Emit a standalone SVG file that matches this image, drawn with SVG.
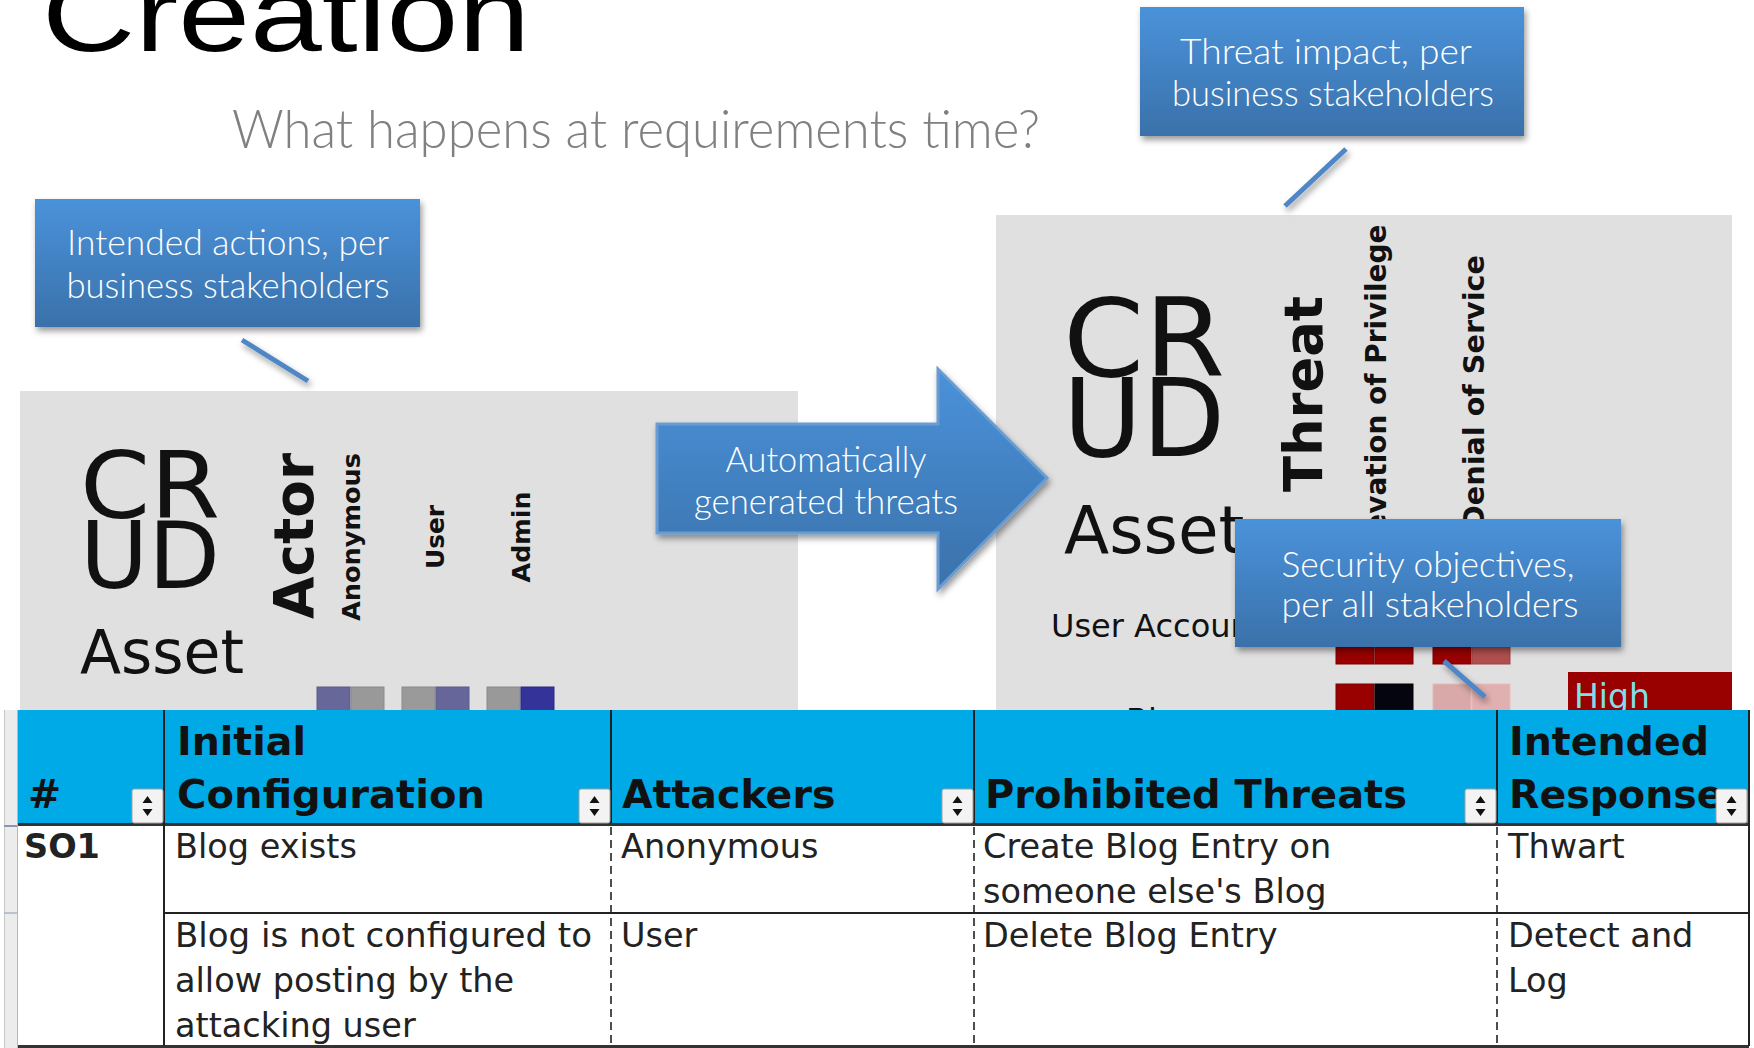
<svg xmlns="http://www.w3.org/2000/svg" width="1754" height="1048" viewBox="0 0 1754 1048">
<defs>
  <linearGradient id="cg" x1="0" y1="0" x2="0" y2="1">
    <stop offset="0" stop-color="#4a92da"/>
    <stop offset="1" stop-color="#3a71aa"/>
  </linearGradient>
  <filter id="sh" x="-10%" y="-15%" width="125%" height="140%">
    <feDropShadow dx="2" dy="4" stdDeviation="3" flood-color="#000" flood-opacity="0.4"/>
  </filter>
  <g id="sortbtn">
    <rect x="0" y="0" width="31" height="34" rx="2" fill="#f3f3f3" stroke="#a0a0a0" stroke-width="1"/>
    <path d="M15.5 7 L20.5 14 L10.5 14 Z M15.5 27 L20.5 20 L10.5 20 Z" fill="#111"/>
  </g>
  <style>
    .ct{font-family:Lato,"Liberation Sans",sans-serif;font-weight:300;font-size:35px;fill:#ffffff;text-anchor:middle}
    .callout{fill:url(#cg);filter:url(#sh)}
    .panel{fill:#e0e0e0}
    .big{font-family:"DejaVu Sans",sans-serif;fill:#111}
    .rot{font-family:"DejaVu Sans",sans-serif;font-weight:bold;fill:#111;text-anchor:middle}
    .hd{font-family:"DejaVu Sans",sans-serif;font-weight:bold;font-size:39.5px;fill:#111}
    .bd{font-family:"DejaVu Sans",sans-serif;font-size:33.5px;fill:#222}
    .conn{stroke:#4f86c6;stroke-width:5;fill:none;filter:url(#sh)}
    .dash{stroke:#222;stroke-width:1.6;stroke-dasharray:8 5;fill:none}
    .solid{stroke:#222;stroke-width:2;fill:none}
  </style>
</defs>
<rect x="0" y="0" width="1754" height="1048" fill="#ffffff"/>

<g id="title">
  <text x="42" y="51" font-family="'Liberation Sans',sans-serif" font-size="105" fill="#000" textLength="488" lengthAdjust="spacingAndGlyphs">Creation</text>
</g>
<g id="subtitle">
  <text x="232" y="148" font-family="Lato,'Liberation Sans',sans-serif" font-weight="300" font-size="54" fill="#808080" textLength="808" lengthAdjust="spacingAndGlyphs">What happens at requirements time?</text>
</g>

<g id="left-panel">
  <rect class="panel" x="20" y="391" width="778" height="330"/>
  <text class="big" x="80" y="518" font-size="93" textLength="140" lengthAdjust="spacingAndGlyphs">CR</text>
  <text class="big" x="80" y="588" font-size="93" textLength="140" lengthAdjust="spacingAndGlyphs">UD</text>
  <text class="big" x="80" y="673" font-size="60">Asset</text>
  <text class="rot" transform="translate(313,536) rotate(-90)" font-size="56" textLength="166" lengthAdjust="spacingAndGlyphs">Actor</text>
  <text class="rot" transform="translate(360,537) rotate(-90)" font-size="25.5" textLength="168" lengthAdjust="spacingAndGlyphs">Anonymous</text>
  <text class="rot" transform="translate(444,537) rotate(-90)" font-size="25.5" textLength="64" lengthAdjust="spacingAndGlyphs">User</text>
  <text class="rot" transform="translate(530,537) rotate(-90)" font-size="25.5" textLength="91" lengthAdjust="spacingAndGlyphs">Admin</text>
  <rect x="317" y="687" width="33" height="30" fill="#67679a" stroke="#5a5a8a" stroke-width="1"/>
  <rect x="351" y="687" width="33" height="30" fill="#999999" stroke="#8a8a8a" stroke-width="1"/>
  <rect x="402" y="687" width="33" height="30" fill="#9a9a9a" stroke="#8a8a8a" stroke-width="1"/>
  <rect x="436" y="687" width="33" height="30" fill="#66669a" stroke="#5a5a8a" stroke-width="1"/>
  <rect x="487" y="687" width="33" height="30" fill="#999999" stroke="#8a8a8a" stroke-width="1"/>
  <rect x="521" y="687" width="33" height="30" fill="#333399" stroke="#2a2a88" stroke-width="1"/>
</g>

<g id="right-panel">
  <rect class="panel" x="996" y="215" width="736" height="500"/>
  <text class="big" x="1063" y="376" font-size="108" textLength="162" lengthAdjust="spacingAndGlyphs">CR</text>
  <text class="big" x="1063" y="456" font-size="108" textLength="162" lengthAdjust="spacingAndGlyphs">UD</text>
  <text class="big" x="1064" y="553" font-size="66">Asset</text>
  <text class="rot" transform="translate(1322,394) rotate(-90)" font-size="53" textLength="196" lengthAdjust="spacingAndGlyphs">Threat</text>
  <text class="rot" transform="translate(1386,393) rotate(-90)" font-size="28" textLength="337" lengthAdjust="spacingAndGlyphs">Elevation of Privilege</text>
  <text class="rot" transform="translate(1484,392) rotate(-90)" font-size="28" textLength="274" lengthAdjust="spacingAndGlyphs">Denial of Service</text>
  <text class="big" x="1051" y="637" font-size="32" fill="#222">User Account</text>
  <text class="big" x="1126" y="731" font-size="32" fill="#222">Blog</text>
  <rect x="1336" y="647" width="38" height="17" fill="#990000" stroke="#7a0000" stroke-width="1"/>
  <rect x="1375" y="647" width="38" height="17" fill="#9a0000" stroke="#7a0000" stroke-width="1"/>
  <rect x="1433" y="647" width="38" height="17" fill="#990000" stroke="#7a0000" stroke-width="1"/>
  <rect x="1472" y="647" width="38" height="17" fill="#b04e4e" stroke="#9a4444" stroke-width="1"/>
  <rect x="1336" y="684" width="38" height="30" fill="#990000" stroke="#7a0000" stroke-width="1"/>
  <rect x="1375" y="684" width="38" height="30" fill="#05050f" stroke="#000" stroke-width="1"/>
  <rect x="1433" y="684" width="38" height="30" fill="#d9a8a8" stroke="#e6b8b8" stroke-width="1"/>
  <rect x="1472" y="684" width="38" height="30" fill="#e0afaf" stroke="#ecbcbc" stroke-width="1"/>
  <rect x="1568" y="672" width="164" height="43" fill="#990000"/>
  <text x="1574" y="708" font-family="'DejaVu Sans',sans-serif" font-size="33" fill="#7fdfe6">High</text>
</g>

<g id="arrow-generated">
  <polygon points="657,424 938,424 938,369 1047,478 938,589 938,533 657,533" fill="url(#cg)" stroke="#6a9cd4" stroke-width="3" filter="url(#sh)"/>
  <text class="ct" x="826" y="472" textLength="201" lengthAdjust="spacingAndGlyphs">Automatically</text>
  <text class="ct" x="826" y="514" textLength="264" lengthAdjust="spacingAndGlyphs">generated threats</text>
</g>

<g id="connectors">
  <line class="conn" x1="242" y1="340" x2="308" y2="381"/>
  <line class="conn" x1="1346" y1="149" x2="1285" y2="206"/>
  <line class="conn" x1="1444" y1="661" x2="1485" y2="697"/>
</g>

<g id="callout-intended">
  <rect class="callout" x="35" y="199" width="385" height="128"/>
  <text class="ct" x="228" y="255" textLength="322" lengthAdjust="spacingAndGlyphs">Intended actions, per</text>
  <text class="ct" x="228" y="298" textLength="323" lengthAdjust="spacingAndGlyphs">business stakeholders</text>
</g>

<g id="callout-impact">
  <rect class="callout" x="1140" y="7" width="384" height="129"/>
  <text class="ct" x="1326" y="64" textLength="292" lengthAdjust="spacingAndGlyphs">Threat impact, per</text>
  <text class="ct" x="1333" y="106" textLength="322" lengthAdjust="spacingAndGlyphs">business stakeholders</text>
</g>

<g id="callout-objectives">
  <rect class="callout" x="1235" y="519" width="386" height="128"/>
  <text class="ct" x="1428" y="577" textLength="293" lengthAdjust="spacingAndGlyphs">Security objectives,</text>
  <text class="ct" x="1430" y="617" textLength="297" lengthAdjust="spacingAndGlyphs">per all stakeholders</text>
</g>

<g id="table">
  <rect x="4" y="710" width="13" height="338" fill="#ececec"/>
  <line x1="4.5" y1="710" x2="4.5" y2="1048" stroke="#c8c8c8" stroke-width="1"/>
  <line x1="4" y1="826" x2="17" y2="826" stroke="#8898b0" stroke-width="2"/>
  <line x1="4" y1="913" x2="17" y2="913" stroke="#aab4c8" stroke-width="1.5"/>
  <rect x="17" y="710" width="1732" height="113" fill="#00aae6"/>
  <rect x="17" y="826" width="1732" height="220" fill="#ffffff"/>
  <line x1="17" y1="824.5" x2="1749" y2="824.5" stroke="#333" stroke-width="3"/>
  <line x1="17" y1="1046.5" x2="1749" y2="1046.5" stroke="#333" stroke-width="3"/>
  <line x1="17.5" y1="710" x2="17.5" y2="1048" stroke="#b8b8b8" stroke-width="1"/>
  <line class="solid" x1="164" y1="710" x2="164" y2="1046"/>
  <line class="solid" x1="611" y1="710" x2="611" y2="823"/>
  <line class="solid" x1="974" y1="710" x2="974" y2="823"/>
  <line class="solid" x1="1497" y1="710" x2="1497" y2="823"/>
  <line class="solid" x1="1749" y1="710" x2="1749" y2="1046"/>
  <line class="dash" x1="611" y1="827" x2="611" y2="1045"/>
  <line class="dash" x1="974" y1="827" x2="974" y2="1045"/>
  <line class="dash" x1="1497" y1="827" x2="1497" y2="1045"/>
  <line class="solid" x1="164" y1="913" x2="1749" y2="913"/>

  <text class="hd" x="28" y="808">#</text>
  <text class="hd" x="177" y="755">Initial</text>
  <text class="hd" x="177" y="808" textLength="308" lengthAdjust="spacingAndGlyphs">Configuration</text>
  <text class="hd" x="622" y="808">Attackers</text>
  <text class="hd" x="985" y="808" textLength="422" lengthAdjust="spacingAndGlyphs">Prohibited Threats</text>
  <text class="hd" x="1509" y="755">Intended</text>
  <text class="hd" x="1509" y="808">Response</text>
  <use href="#sortbtn" x="132" y="789"/>
  <use href="#sortbtn" x="579" y="789"/>
  <use href="#sortbtn" x="942" y="789"/>
  <use href="#sortbtn" x="1465" y="789"/>
  <use href="#sortbtn" x="1716" y="789"/>

  <text class="bd" x="24" y="858" font-weight="bold" font-size="33">SO1</text>
  <text class="bd" x="175" y="858">Blog exists</text>
  <text class="bd" x="621" y="858">Anonymous</text>
  <text class="bd" x="983" y="858">Create Blog Entry on</text>
  <text class="bd" x="983" y="903">someone else's Blog</text>
  <text class="bd" x="1508" y="858">Thwart</text>
  <text class="bd" x="175" y="947" textLength="417" lengthAdjust="spacingAndGlyphs">Blog is not configured to</text>
  <text class="bd" x="175" y="992">allow posting by the</text>
  <text class="bd" x="175" y="1037">attacking user</text>
  <text class="bd" x="621" y="947">User</text>
  <text class="bd" x="983" y="947">Delete Blog Entry</text>
  <text class="bd" x="1508" y="947">Detect and</text>
  <text class="bd" x="1508" y="992">Log</text>
</g>
</svg>
